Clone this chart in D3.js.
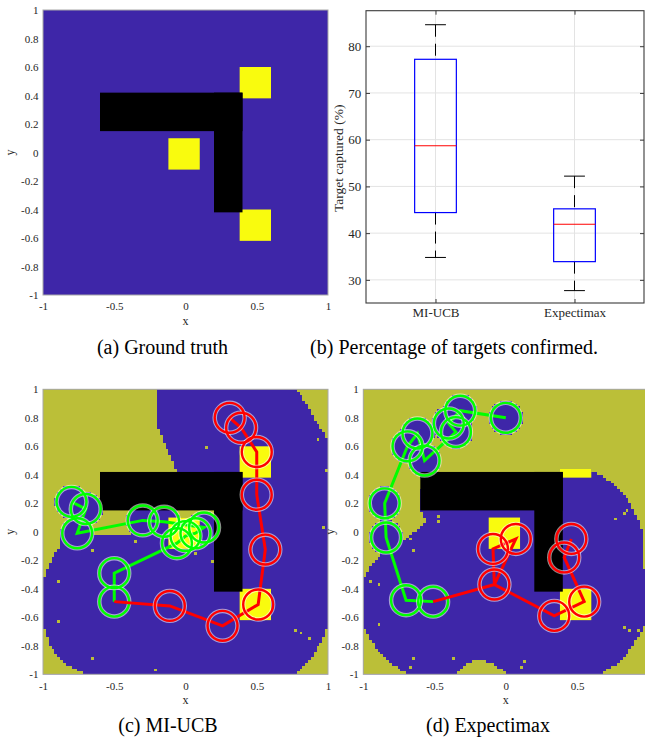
<!DOCTYPE html>
<html>
<head>
<meta charset="utf-8">
<script src="https://cdn.jsdelivr.net/npm/d3@7"></script>
<style>
  body { margin: 0; background: #fff; }
  text { font-family: "Liberation Serif", "Times New Roman", "DejaVu Serif", serif; }
</style>
</head>
<body>
<script>

// ---------- data ----------
// map ticks
let mapTicksY = [-1, -0.8, -0.6, -0.4, -0.2, 0, 0.2, 0.4, 0.6, 0.8, 1];
let mapTicksX = [-1, -0.5, 0, 0.5, 1];

// obstacle (x0, y0, x1, y1) and targets, in map units
let obstacle = [[-0.6, 0.15, 0.4, 0.42], [0.2, -0.42, 0.4, 0.42]];
let targets = [[0.38, 0.38, 0.6, 0.6], [-0.12, -0.12, 0.1, 0.1], [0.38, -0.62, 0.6, -0.4]];

// boxplot values (percent of targets confirmed)
let methods = ["MI-UCB", "Expectimax"];
let whiskLow = [34.8, 27.7];
let q1 = [44.4, 33.9];
let medians = [58.7, 41.9];
let q3 = [77.2, 45.2];
let whiskHigh = [84.6, 52.2];
let boxTicks = [30, 40, 50, 60, 70, 80];

// MI-UCB run
let miGreen = [[-0.80, 0.21], [-0.70, 0.16], [-0.76, -0.01], [-0.30, 0.08], [-0.15, 0.07], [0.13, 0.03],
               [0.07, -0.01], [0.0, -0.03], [-0.06, -0.08], [-0.50, -0.29], [-0.50, -0.49]];
let miRed = [[-0.50, -0.49], [-0.11, -0.52], [0.26, -0.66], [0.51, -0.51], [0.56, -0.125],
             [0.50, 0.26], [0.50, 0.56], [0.39, 0.73], [0.31, 0.80]];
let miUnexplored = [
  [[-1, 1], [-0.19, 1], [-0.195, 0.85], [-0.19, 0.72], [-0.16, 0.65], [-0.12, 0.56], [-0.085, 0.49],
   [-0.06, 0.42], [-0.06, 0.3], [0.2, 0.3], [0.2, -0.02], [0.1, -0.02], [0.1, 0.1], [-0.12, 0.1],
   [-0.12, -0.015], [-0.87, -0.015], [-0.88, -0.1], [-0.93, -0.175], [-0.96, -0.245], [-1, -0.34]],
  [[0.78, 1], [1, 1], [1, 0.65], [0.96, 0.71], [0.92, 0.77], [0.87, 0.86], [0.83, 0.93]],
  [[-1, -0.66], [-0.95, -0.8], [-0.88, -0.9], [-0.79, -0.96], [-0.7, -1], [-1, -1]],
  [[1, -0.66], [0.96, -0.76], [0.9, -0.86], [0.84, -0.93], [0.76, -1], [1, -1]]
];
let miSpecks = [[-0.647, -0.128], [-0.893, -0.36], [-0.354, -0.07], [0.184, -0.22], [0.067, -0.15],
                [-0.89, -0.64], [-0.647, -0.888], [-0.214, -0.965], [0.768, -0.70], [0.80, -0.72],
                [0.874, -0.76], [0.149, 0.586], [0.92, 0.656], [0.99, 0.42], [0.977, 0.035]];

// Expectimax run
let exGreen = [[0.0, 0.80], [-0.32, 0.85], [-0.40, 0.76], [-0.35, 0.70], [-0.57, 0.50], [-0.62, 0.69],
               [-0.69, 0.60], [-0.85, 0.20], [-0.84, -0.04], [-0.70, -0.48], [-0.51, -0.49]];
let exRed = [[-0.51, -0.49], [-0.08, -0.37], [-0.09, -0.12], [0.07, -0.05], [-0.08, -0.37],
             [0.34, -0.59], [0.55, -0.49], [0.41, -0.18], [0.46, -0.05]];
let exUnexplored = [
  [[-1, 1], [1, 1], [1, -0.28], [0.96, -0.25], [0.955, 0], [0.94, 0.07], [0.905, 0.14], [0.834, 0.26],
   [0.74, 0.35], [0.66, 0.4], [0.6, 0.435], [0.38, 0.435], [0.3, 0.3], [-0.6, 0.3], [-0.6, 0.15],
   [-0.555, 0.08], [-0.625, 0.013], [-0.766, -0.105], [-0.883, -0.175], [-0.953, -0.245], [-1, -0.34]],
  [[-1, -0.66], [-0.95, -0.76], [-0.88, -0.85], [-0.8, -0.93], [-0.69, -1], [-1, -1]],
  [[-0.34, -1], [-0.3, -0.95], [-0.25, -0.915], [-0.2, -0.9], [-0.13, -0.91], [-0.06, -0.94], [0.0, -1]],
  [[1, -0.6], [0.975, -0.65], [0.94, -0.72], [0.89, -0.8], [0.83, -0.88], [0.76, -0.94], [0.66, -1], [1, -1]]
];
let exSpecks = [[-0.944, -0.35], [-0.885, -0.373], [-0.897, -0.642], [-0.651, -0.888], [-0.674, -0.947],
                [-0.37, -0.888], [0.133, -0.9], [0.109, -0.947], [0.834, -0.666], [0.88, -0.69],
                [0.93, -0.70], [-0.663, -0.058], [-0.651, -0.128], [0.764, 0.095], [0.822, 0.13],
                [0.858, 0.153], [-0.476, 0.118], [-0.464, 0.071]];

// ---------- style ----------
let blue = "#3e26a8", olive = "#bbbf38", yellow = "#f9fb0e";
let tickColor = "#262626";
let serif = "'Liberation Serif', 'Times New Roman', 'DejaVu Serif', serif";
let size = 285;      // map panel side in px
let clearR = 0.115;  // footprint cleared around green stops
let ringR = 0.105;   // drawn sensing ring
let pageW = 645;

let svg = d3.select("body").append("svg").attr("width", pageW).attr("height", 737);

// rasterise the unexplored area on the 100x100 map grid
function unexploredGrid(polys, visited, specks) {
  let n = 100, cell = 2 / n, grid = [];
  for (let j = 0; j < n; j++) {
    let row = [];
    for (let i = 0; i < n; i++) {
      let cx = -1 + cell * (i + 0.5), cy = -1 + cell * (j + 0.5);
      let on = polys.some(p => d3.polygonContains(p, [cx, cy])) &&
               !visited.some(v => Math.hypot(v[0] - cx, v[1] - cy) < clearR);
      row.push(on);
    }
    grid.push(row);
  }
  specks.forEach(s => {
    let i = Math.floor((s[0] + 1) / cell), j = Math.floor((s[1] + 1) / cell);
    if (grid[j] && i >= 0 && i < n) grid[j][i] = !grid[j][i];
  });
  return grid;
}

function mapPanel(left, top, run) {
  let x = d3.scaleLinear().domain([-1, 1]).range([left, left + size]);
  let y = d3.scaleLinear().domain([-1, 1]).range([top + size, top]);
  let g = svg.append("g");

  g.append("rect").attr("x", left).attr("y", top).attr("width", size).attr("height", size).attr("fill", blue);

  g.selectAll(".target").data(targets).enter().append("rect")
    .attr("x", d => x(d[0])).attr("y", d => y(d[3]))
    .attr("width", d => x(d[2]) - x(d[0])).attr("height", d => y(d[1]) - y(d[3]))
    .attr("fill", yellow);

  if (run) {
    let grid = unexploredGrid(run.polys, run.green, run.specks);
    let cell = 2 / 100, runs = [];
    grid.forEach((row, j) => {
      let i = 0;
      while (i < row.length) {
        if (row[i]) {
          let i0 = i;
          while (i < row.length && row[i]) i++;
          runs.push([i0, i, j]);
        } else i++;
      }
    });
    g.append("g").attr("shape-rendering", "crispEdges").selectAll("rect").data(runs).enter().append("rect")
      .attr("x", d => x(-1 + d[0] * cell)).attr("width", d => x(-1 + d[1] * cell) - x(-1 + d[0] * cell))
      .attr("y", d => y(-1 + (d[2] + 1) * cell)).attr("height", d => y(-1 + d[2] * cell) - y(-1 + (d[2] + 1) * cell))
      .attr("fill", olive);
  }

  g.selectAll(".obst").data(obstacle).enter().append("rect")
    .attr("x", d => x(d[0])).attr("y", d => y(d[3]))
    .attr("width", d => x(d[2]) - x(d[0])).attr("height", d => y(d[1]) - y(d[3]))
    .attr("fill", "#000");

  if (run) {
    let line = d3.line().x(d => x(d[0])).y(d => y(d[1]));
    let r = x(ringR) - x(0);
    [[run.green, "#00ff00", 0], [run.red, "#ff0000", 1]].forEach(([pts, col, skip]) => {
      g.append("path").attr("d", line(pts)).attr("fill", "none").attr("stroke", col)
        .attr("stroke-width", 3).attr("stroke-linejoin", "miter");
      let seen = new Set();
      let stops = pts.slice(skip).filter(p => { let k = p.join(); if (seen.has(k)) return false; seen.add(k); return true; });
      g.selectAll(null).data(stops).enter().append("circle")
        .attr("cx", d => x(d[0])).attr("cy", d => y(d[1])).attr("r", r)
        .attr("fill", "none").attr("stroke", "#ffffff").attr("stroke-opacity", 0.55).attr("stroke-width", 4.5);
      g.selectAll(null).data(stops).enter().append("circle")
        .attr("cx", d => x(d[0])).attr("cy", d => y(d[1])).attr("r", r)
        .attr("fill", "none").attr("stroke", col).attr("stroke-width", 2.4);
    });
  }

  g.append("rect").attr("x", left).attr("y", top).attr("width", size).attr("height", size)
    .attr("fill", "none").attr("stroke", "#a8a8a8").attr("stroke-width", 1);

  let fmt = d => String(+(+d).toFixed(1));
  // only ticks whose label fits inside the page
  let xt = mapTicksX.filter(t => x(t) + 4 <= pageW);
  let ya = g.append("g").attr("transform", "translate(" + left + ",0)")
    .call(d3.axisLeft(y).tickValues(mapTicksY).tickFormat(fmt).tickSize(0).tickPadding(4.5));
  let xa = g.append("g").attr("transform", "translate(0," + (top + size) + ")")
    .call(d3.axisBottom(x).tickValues(xt).tickFormat(fmt).tickSize(0).tickPadding(7.5));
  [ya, xa].forEach(a => {
    a.attr("font-family", serif);
    a.select(".domain").remove();
    a.selectAll("text").attr("fill", tickColor).style("font-size", "11px").style("font-family", serif);
  });

  g.append("text").attr("x", x(0)).attr("y", top + size + 30).attr("text-anchor", "middle")
    .attr("fill", tickColor).style("font-size", "12px").style("font-family", serif).text("x");
  g.append("text").attr("transform", "translate(" + (left - 29) + "," + y(0) + ") rotate(-90)")
    .attr("text-anchor", "middle").attr("fill", tickColor).style("font-size", "12px").style("font-family", serif).text("y");
}

function captionAt(cx, base, txt) {
  svg.append("text").attr("x", cx).attr("y", base).attr("text-anchor", "middle")
    .style("font-size", "20px").style("font-family", serif).attr("fill", "#000").text(txt);
}

// (a) ground truth
mapPanel(43, 10, null);
captionAt(162.5, 354, "(a) Ground truth");

// (b) boxplot
let bL = 366, bR = 644, bT = 10.7, bB = 303;
let xb = d3.scaleLinear().domain([0.5, 2.5]).range([bL, bR]);
let yb = d3.scaleLinear().domain([25.05, 87.6]).range([bB, bT]);
let gb = svg.append("g");

gb.selectAll(".hg").data(boxTicks).enter().append("line")
  .attr("x1", bL).attr("x2", bR).attr("y1", d => yb(d)).attr("y2", d => yb(d))
  .attr("stroke", "#e3e3e3").attr("stroke-width", 1);
gb.selectAll(".vg").data(methods).enter().append("line")
  .attr("x1", (d, i) => xb(i + 1)).attr("x2", (d, i) => xb(i + 1)).attr("y1", bT).attr("y2", bB)
  .attr("stroke", "#e3e3e3").attr("stroke-width", 1);

methods.forEach((m, i) => {
  let c = xb(i + 1), hw = xb(1.15) - xb(1), cw = xb(1.075) - xb(1);
  [[q3[i], whiskHigh[i]], [whiskLow[i], q1[i]]].forEach(([a, b]) => {
    gb.append("line").attr("x1", c).attr("x2", c).attr("y1", yb(b)).attr("y2", yb(a))
      .attr("stroke", "#000").attr("stroke-width", 1).attr("stroke-dasharray", "12,7");
  });
  [whiskLow[i], whiskHigh[i]].forEach(v => {
    gb.append("line").attr("x1", c - cw).attr("x2", c + cw).attr("y1", yb(v)).attr("y2", yb(v))
      .attr("stroke", "#000").attr("stroke-width", 1);
  });
  gb.append("rect").attr("x", c - hw).attr("y", yb(q3[i])).attr("width", 2 * hw).attr("height", yb(q1[i]) - yb(q3[i]))
    .attr("fill", "none").attr("stroke", "#0000ff").attr("stroke-width", 1.2);
  gb.append("line").attr("x1", c - hw).attr("x2", c + hw).attr("y1", yb(medians[i])).attr("y2", yb(medians[i]))
    .attr("stroke", "#ff0000").attr("stroke-width", 1.2);
});

gb.append("rect").attr("x", bL).attr("y", bT).attr("width", bR - bL).attr("height", bB - bT)
  .attr("fill", "none").attr("stroke", "#3a3a3a").attr("stroke-width", 1.1);

let byL = gb.append("g").attr("transform", "translate(" + bL + ",0)")
  .call(d3.axisLeft(yb).tickValues(boxTicks).tickSizeInner(-4).tickSizeOuter(0).tickPadding(4.7));
let byR = gb.append("g").attr("transform", "translate(" + bR + ",0)")
  .call(d3.axisRight(yb).tickValues(boxTicks).tickSizeInner(-4).tickSizeOuter(0).tickFormat(""));
let bxB = gb.append("g").attr("transform", "translate(0," + bB + ")")
  .call(d3.axisBottom(xb).tickValues([1, 2]).tickFormat((d, i) => methods[i]).tickSizeInner(-4).tickSizeOuter(0).tickPadding(5.2));
let bxT = gb.append("g").attr("transform", "translate(0," + bT + ")")
  .call(d3.axisTop(xb).tickValues([1, 2]).tickFormat("").tickSizeInner(-4).tickSizeOuter(0));
[byL, byR, bxB, bxT].forEach(a => {
  a.attr("font-family", serif);
  a.select(".domain").remove();
  a.selectAll("line").attr("stroke", "#3a3a3a");
  a.selectAll("text").attr("fill", tickColor).style("font-size", "13px").style("font-family", serif);
});
gb.append("text").attr("transform", "translate(343," + yb(56) + ") rotate(-90)")
  .attr("text-anchor", "middle").attr("fill", tickColor).style("font-size", "13.5px").style("font-family", serif)
  .text("Target captured (%)");
captionAt(454, 354, "(b) Percentage of targets confirmed.");

// (c) MI-UCB
mapPanel(43, 389.3, { polys: miUnexplored, green: miGreen, red: miRed, specks: miSpecks });
captionAt(168, 732, "(c) MI-UCB");

// (d) Expectimax
mapPanel(363.3, 389.3, { polys: exUnexplored, green: exGreen, red: exRed, specks: exSpecks });
captionAt(488, 732, "(d) Expectimax");

</script>
</body>
</html>
